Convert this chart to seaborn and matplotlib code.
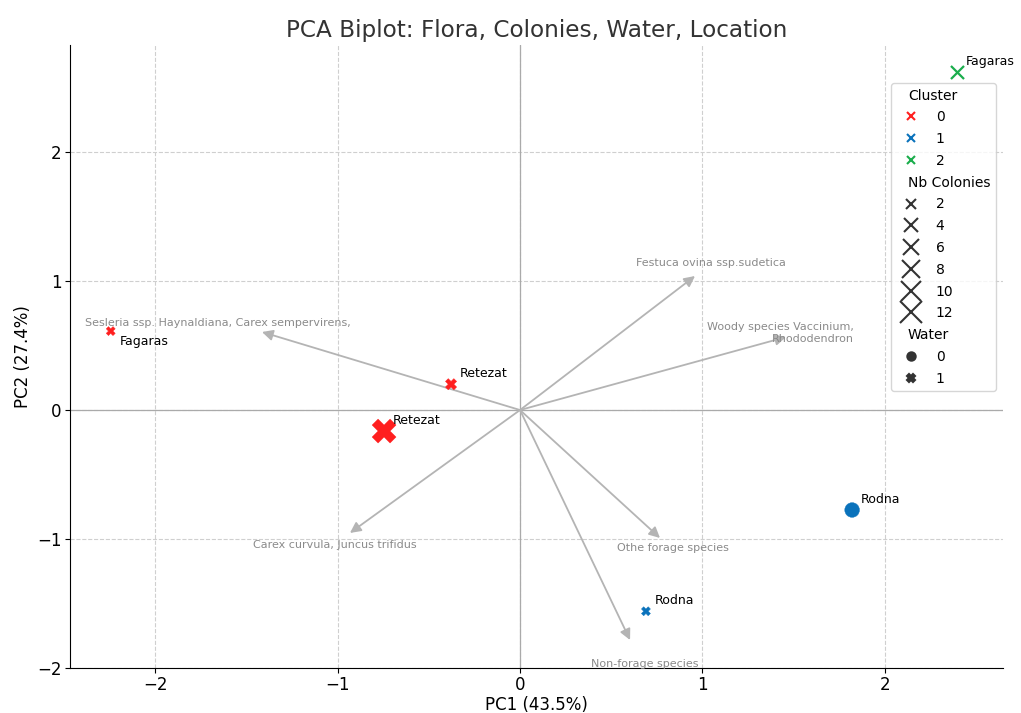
import numpy as np
import pandas as pd
import matplotlib
matplotlib.use("Agg")
import matplotlib.pyplot as plt
import seaborn as sns

# ==========================
# Data
# ==========================

location = ["Fagaras", "Retezat", "Retezat", "Rodna", "Rodna", "Fagaras"]
pc1 = [-2.243, -0.378, -0.745, 0.69, 1.82, 2.395]
pc2 = [0.612, 0.20, -0.163, -1.56, -0.775, 2.62]
cluster = [0, 0, 0, 1, 1, 2]
nb_colonies = [2, 3, 13, 2, 5, 4]
water = [1, 1, 1, 1, 0, np.nan]

features = [
    "Sesleria ssp. Haynaldiana, Carex sempervirens,",
    "Festuca ovina ssp.sudetica",
    "Woody species Vaccinium,\nRhododendron",
    "Carex curvula, Juncus trifidus",
    "Othe forage species",
    "Non-forage species",
]
load_pc1 = [-1.414, 0.959, 1.458, -0.932, 0.767, 0.603]
load_pc2 = [0.605, 1.039, 0.566, -0.953, -0.992, -1.783]
label_pc1 = [-1.658, 1.047, 1.425, -1.014, 0.838, 0.685]
label_pc2 = [0.674, 1.14, 0.597, -1.047, -1.07, -1.97]

df = pd.DataFrame({
    "PC1": pc1,
    "PC2": pc2,
    "Cluster": cluster,
    "Nb Colonies": nb_colonies,
    "Water": water,
    "Location": location,
})

palette = {0: "#ff1f1f", 1: "#0a72bb", 2: "#1aad4c"}
size_range = (42, 297)
size_norm = (min(nb_colonies), max(nb_colonies))

plt.rcParams["legend.labelspacing"] = 0.56

# ==========================
# Plot
# ==========================

fig, ax = plt.subplots(figsize=(10.21, 7.13), dpi=100)
fig.subplots_adjust(left=0.0686, right=0.9824, top=0.9369, bottom=0.0631)

ax.grid(True, linestyle="--", color="#cfcfcf", linewidth=0.8)
ax.set_axisbelow(True)
ax.axhline(0, color="#aaaaaa", linewidth=0.9, zorder=1)
ax.axvline(0, color="#aaaaaa", linewidth=0.9, zorder=1)

with_water = df.dropna(subset=["Water"]).copy()
with_water["Water"] = with_water["Water"].astype(int)
no_water = df[df["Water"].isna()]

sns.scatterplot(
    data=with_water,
    x="PC1",
    y="PC2",
    hue="Cluster",
    size="Nb Colonies",
    style="Water",
    palette=palette,
    hue_order=[0, 1, 2],
    sizes=size_range,
    size_norm=size_norm,
    marker="x",
    linewidth=1.5,
    legend="brief",
    ax=ax,
    zorder=3,
)
# filled markers on the axes: no thick outline (legend keeps the 1.5 lw)
ax.collections[0].set_linewidths(0.3)

sns.scatterplot(
    data=no_water,
    x="PC1",
    y="PC2",
    hue="Cluster",
    size="Nb Colonies",
    palette=palette,
    hue_order=[0, 1, 2],
    sizes=size_range,
    size_norm=size_norm,
    marker="x",
    linewidth=1.6,
    legend=False,
    ax=ax,
    zorder=3,
)

# point labels
for x, y, name in zip(pc1, pc2, location):
    if x < -2:
        ax.text(x + 0.05, y - 0.03, name, fontsize=9, ha="left", va="top")
    else:
        ax.text(x + 0.05, y + 0.03, name, fontsize=9, ha="left", va="bottom")

# loadings
for dx, dy, lx, ly, name in zip(load_pc1, load_pc2, label_pc1, label_pc2, features):
    ax.annotate(
        "",
        xy=(dx, dy),
        xytext=(0, 0),
        arrowprops=dict(arrowstyle="-|>", color="#b4b4b4", lw=1.3,
                        mutation_scale=16, shrinkA=0, shrinkB=0),
        zorder=2,
    )
    ax.text(lx, ly, name, fontsize=8, color="#8a8a8a", ha="center",
            va="center", multialignment="right")

ax.set_xlim(-2.466, 2.647)
ax.set_ylim(-2.0, 2.83)
ax.set_xticks([-2, -1, 0, 1, 2])
ax.set_yticks([-2, -1, 0, 1, 2])
ax.tick_params(labelsize=12, pad=2.5)

sns.despine(ax=ax)

ax.set_title("PCA Biplot: Flora, Colonies, Water, Location", fontsize=16.7,
             color="#333333")
ax.set_xlabel("PC1 (43.5%)", fontsize=12, labelpad=1)
ax.set_ylabel("PC2 (27.4%)", fontsize=12)

# legend: move seaborn's legend and make the subtitles flush left
leg = ax.get_legend()
leg.set_loc("upper right")
leg.set_bbox_to_anchor((0.9925, 0.939), transform=ax.transAxes)
leg.borderaxespad = 0
subtitles = {"Cluster", "Nb Colonies", "Water"}
for column in leg._legend_handle_box.get_children():
    for row in column.get_children():
        draw_area, text_area = row.get_children()
        if text_area.get_text() in subtitles:
            draw_area.set_width(0)

plt.savefig("out.png", dpi=100)
plt.close()
